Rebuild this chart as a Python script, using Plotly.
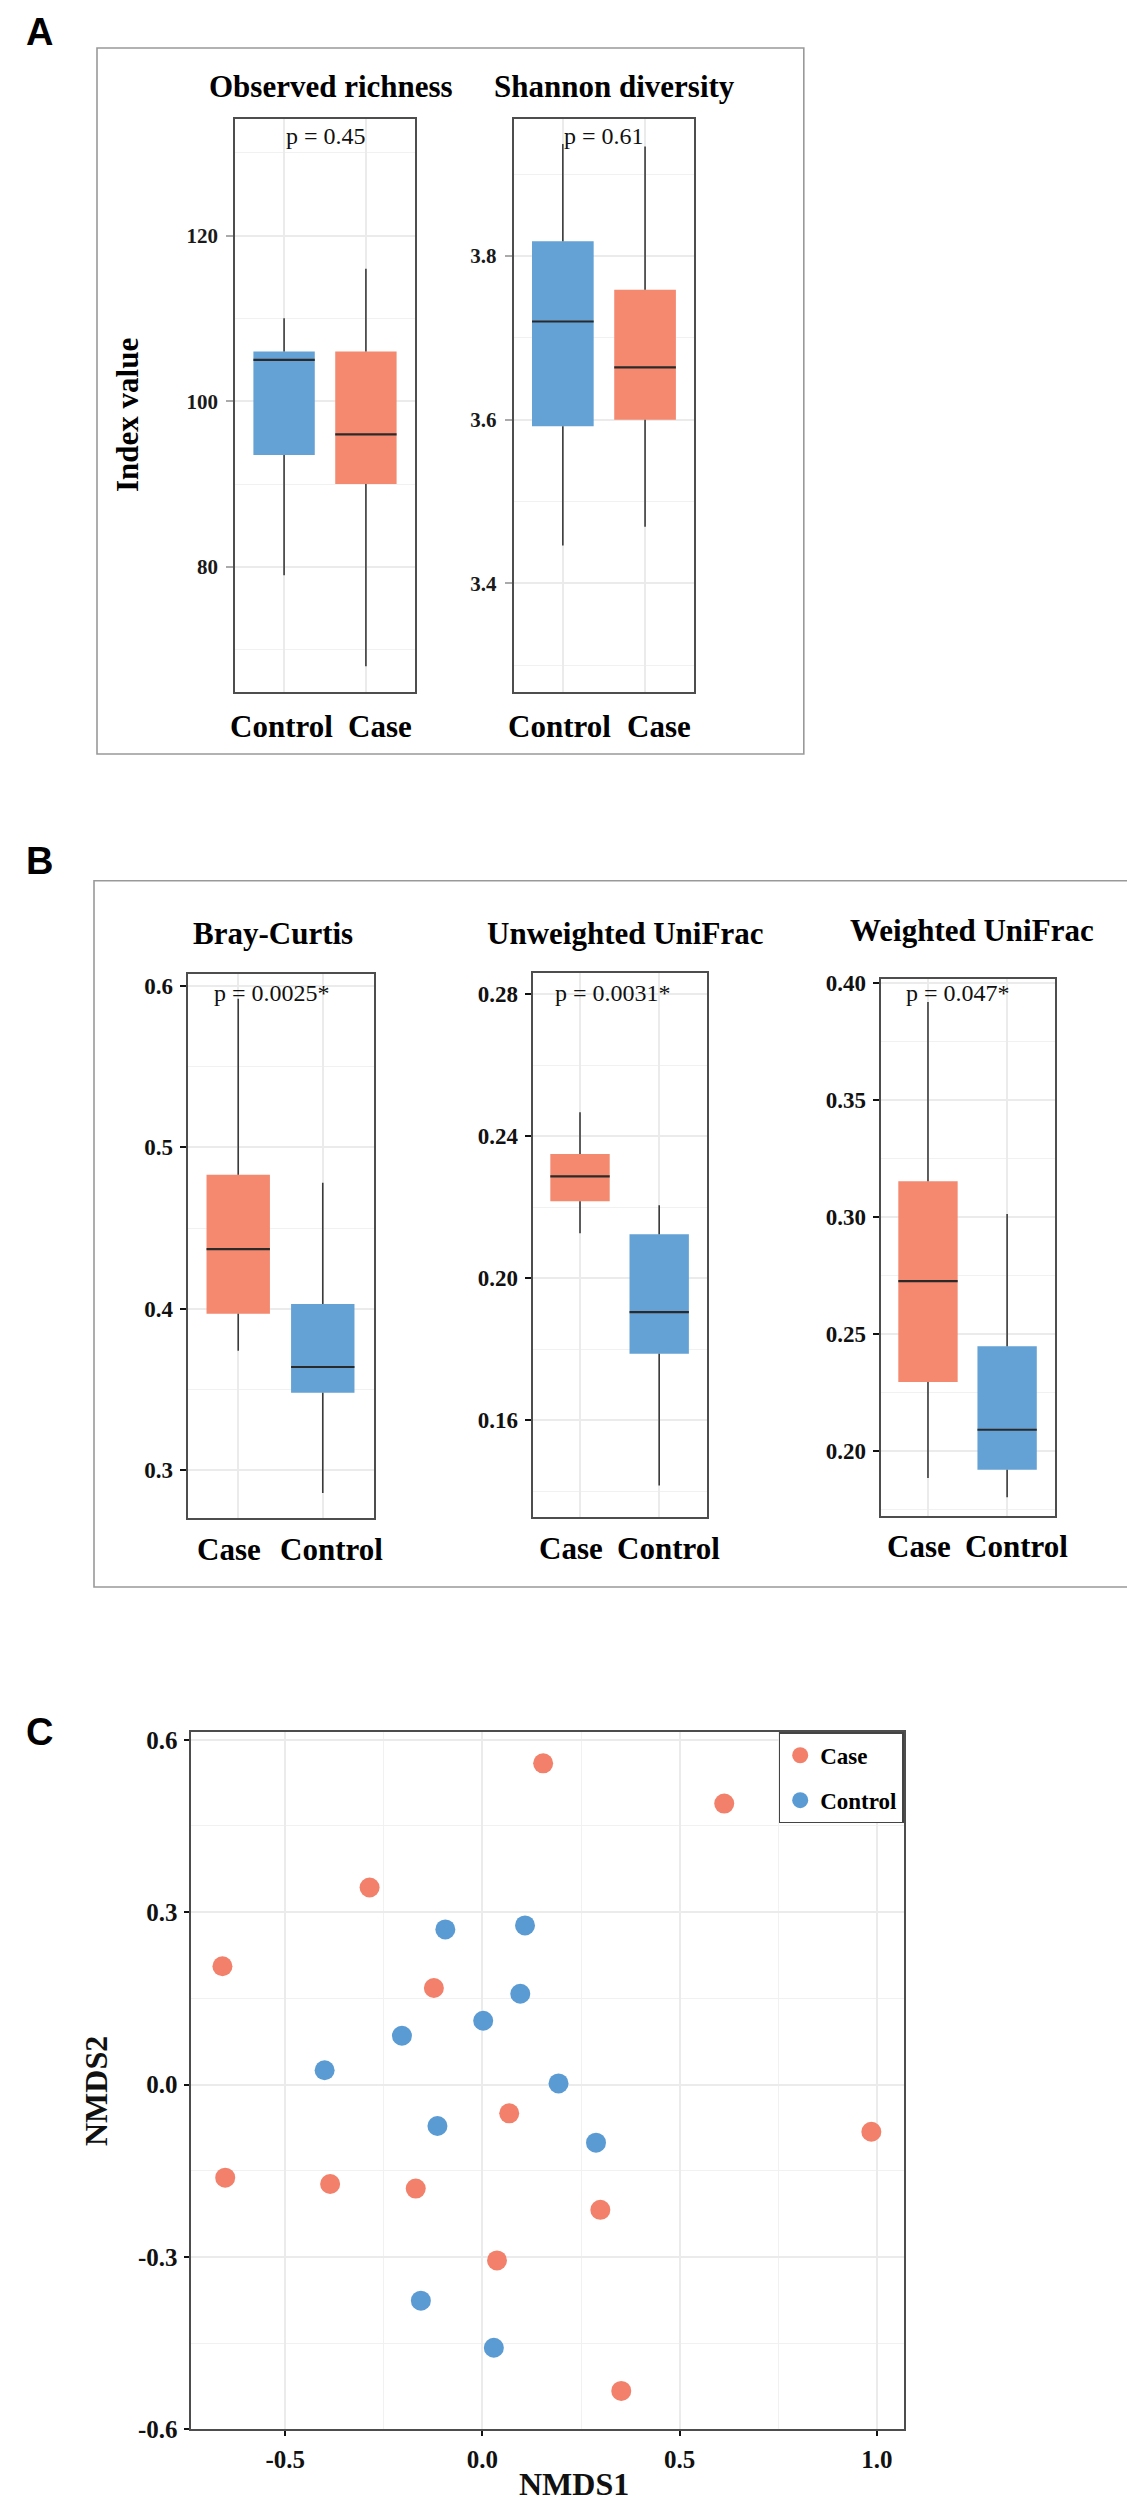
import plotly.graph_objects as go

W, H = 1135, 2500
SERIF = "Liberation Serif"
SANS = "Liberation Sans"
BOX_COLORS = {"Case": "#F4896F", "Control": "#64A2D5"}
PT_COLORS = {"Case": "#F2806A", "Control": "#5A9BD4"}
GRID = "#EBEBEB"
MINOR = "#F1F1F1"
FRAME = "#4D4D4D"
WHISK = "#3A3A3A"

# ---------------- data ----------------
groups_A = ["Control", "Case"]
richness_lo = [79.0, 68.0]
richness_q1 = [93.5, 90.0]
richness_med = [105.0, 96.0]
richness_q3 = [106.0, 106.0]
richness_hi = [110.0, 116.0]

shannon_lo = [3.446, 3.469]
shannon_q1 = [3.592, 3.600]
shannon_med = [3.720, 3.664]
shannon_q3 = [3.818, 3.759]
shannon_hi = [3.937, 3.934]

groups_B = ["Case", "Control"]
bray_lo = [0.374, 0.286]
bray_q1 = [0.397, 0.348]
bray_med = [0.437, 0.364]
bray_q3 = [0.483, 0.403]
bray_hi = [0.592, 0.478]

unw_lo = [0.2127, 0.1417]
unw_q1 = [0.2217, 0.1788]
unw_med = [0.2287, 0.1905]
unw_q3 = [0.2350, 0.2124]
unw_hi = [0.2468, 0.2206]

wu_lo = [0.1886, 0.1803]
wu_q1 = [0.2296, 0.1921]
wu_med = [0.2727, 0.2092]
wu_q3 = [0.3154, 0.2449]
wu_hi = [0.392, 0.3014]

titles = ["Observed richness", "Shannon diversity", "Bray-Curtis",
          "Unweighted UniFrac", "Weighted UniFrac"]
p_labels = ["p = 0.45", "p = 0.61", "p = 0.0025*", "p = 0.0031*", "p = 0.047*"]

case_nmds1 = [0.154, 0.613, -0.286, -0.659, -0.123, 0.068, 0.986, -0.652,
              -0.386, -0.169, 0.299, 0.037, 0.352]
case_nmds2 = [0.559, 0.489, 0.343, 0.206, 0.168, -0.050, -0.082, -0.162,
              -0.173, -0.181, -0.218, -0.306, -0.533]
control_nmds1 = [-0.094, 0.108, 0.096, 0.002, -0.204, -0.400, 0.193, -0.114,
                 0.288, -0.156, 0.029]
control_nmds2 = [0.270, 0.277, 0.158, 0.111, 0.085, 0.025, 0.002, -0.072,
                 -0.101, -0.376, -0.458]

nmds_xticks = [-0.5, 0.0, 0.5, 1.0]
nmds_yticks = [-0.6, -0.3, 0.0, 0.3, 0.6]


def px(x):
    return x / W


def py(y):
    return 1 - y / H


# panel specs
panels = [
    (groups_A, richness_lo, richness_q1, richness_med, richness_q3, richness_hi,
     (227, 407), (110.7, 684), (64.9, 134.1), 20, 10, None, "A"),
    (groups_A, shannon_lo, shannon_q1, shannon_med, shannon_q3, shannon_hi,
     (505.5, 686.4), (110.7, 684), (3.267, 3.968), 0.2, 0.1, ".1f", "A"),
    (groups_B, bray_lo, bray_q1, bray_med, bray_q3, bray_hi,
     (179.5, 365.5), (966, 1510), (0.2705, 0.6073), 0.1, 0.05, ".1f", "B"),
    (groups_B, unw_lo, unw_q1, unw_med, unw_q3, unw_hi,
     (524.5, 698.7), (965, 1509), (0.1328, 0.286), 0.04, 0.02, ".2f", "B"),
    (groups_B, wu_lo, wu_q1, wu_med, wu_q3, wu_hi,
     (872.5, 1046.6), (970.7, 1508.3), (0.1722, 0.402), 0.05, 0.025, ".2f", "B"),
]

title_pos = [(323.5, 78), (606.3, 78), (264.8, 925), (617, 925), (963.7, 923)]
p_pos = [(318.3, 128), (596.3, 128), (263.5, 985), (605, 985), (950, 985)]
xlabel_y = [718, 718, 1541.7, 1541, 1538.3]
xlabel_shift = {"A": (-3, 14), "B": (-9, 9)}

fig = go.Figure()
layout = {}
annotations = []

# boxes first (so scatter overlays are drawn above them)
for k, (groups, lo, q1, med, q3, hi, xd, yd, yr, dt, mn, tf, st) in enumerate(panels):
    n = k + 1
    xa, ya = ("x" if n == 1 else f"x{n}"), ("y" if n == 1 else f"y{n}")
    for i, g in enumerate(groups):
        c = BOX_COLORS[g]
        fig.add_trace(go.Box(
            x=[i], q1=[q1[i]], median=[med[i]], q3=[q3[i]],
            lowerfence=[q1[i]], upperfence=[q3[i]], width=0.75,
            fillcolor=c, line=dict(color=c, width=0), boxpoints=False,
            xaxis=xa, yaxis=ya, showlegend=False, hoverinfo="skip"))

for k, (groups, lo, q1, med, q3, hi, xd, yd, yr, dt, mn, tf, st) in enumerate(panels):
    n = k + 1
    xa, ya = ("x" if n == 1 else f"x{n}"), ("y" if n == 1 else f"y{n}")
    for i, g in enumerate(groups):
        fig.add_trace(go.Scatter(
            x=[i, i, None, i, i], y=[lo[i], q1[i], None, q3[i], hi[i]],
            mode="lines", line=dict(color=WHISK, width=1.6),
            xaxis=xa, yaxis=ya, showlegend=False, hoverinfo="skip"))
        fig.add_trace(go.Scatter(
            x=[i - 0.375, i + 0.375], y=[med[i], med[i]],
            mode="lines", line=dict(color="#2A2A2A", width=2.2),
            xaxis=xa, yaxis=ya, showlegend=False, hoverinfo="skip"))
        # category label under the panel
        annotations.append(dict(
            text=g, x=i, xref=xa, y=py(xlabel_y[k]), yref="paper",
            xshift=xlabel_shift[st][i], xanchor="center", yanchor="middle",
            showarrow=False,
            font=dict(family=SERIF, size=31, color="#000000", weight="bold")))

    if st == "A":
        ytick = dict(ticks="outside", ticklen=7, tickwidth=1.5, tickcolor="#AAAAAA",
                     tickfont=dict(family=SERIF, size=21, color="#1A1A1A", weight="bold"),
                     ticklabelstandoff=4)
    else:
        ytick = dict(ticks="outside", ticklen=6, tickwidth=2.2, tickcolor="#111111",
                     tickfont=dict(family=SERIF, size=23, color="#111111", weight="bold"),
                     ticklabelstandoff=2)
    xkey = "xaxis" if n == 1 else f"xaxis{n}"
    ykey = "yaxis" if n == 1 else f"yaxis{n}"
    layout[xkey] = dict(
        domain=[px(xd[0]), px(xd[1])], anchor=ya, range=[-0.6, 1.6],
        tickmode="array", tickvals=list(range(len(groups))), ticktext=groups,
        showticklabels=False, ticks="", showgrid=True, gridcolor=GRID, gridwidth=1.5,
        zeroline=False, showline=True, linecolor=FRAME, linewidth=1.6, mirror=True,
        fixedrange=True)
    layout[ykey] = dict(
        domain=[py(yd[1]), py(yd[0])], anchor=xa, range=list(yr),
        tick0=0, dtick=dt, showgrid=True, gridcolor=GRID, gridwidth=1.5,
        minor=dict(dtick=mn, tick0=0, showgrid=True, gridcolor=MINOR, gridwidth=1),
        zeroline=False, showline=True, linecolor=FRAME, linewidth=1.6, mirror=True,
        fixedrange=True, **ytick)
    if tf:
        layout[ykey]["tickformat"] = tf

    tx, ty = title_pos[k]
    annotations.append(dict(text=titles[k], x=px(tx), y=py(ty), xref="paper", yref="paper",
                            xanchor="center", yanchor="middle", showarrow=False,
                            font=dict(family=SERIF, size=31, color="#000000", weight="bold")))
    ppx, ppy = p_pos[k]
    annotations.append(dict(text=p_labels[k], x=px(ppx), y=py(ppy), xref="paper", yref="paper",
                            xanchor="center", yanchor="middle", showarrow=False,
                            font=dict(family=SERIF, size=24, color="#111111")))

# ---------------- NMDS panel ----------------
fig.add_trace(go.Scatter(x=case_nmds1, y=case_nmds2, mode="markers", name="Case",
                         legendgroup="case",
                         marker=dict(size=20, color=PT_COLORS["Case"], line=dict(width=0)),
                         xaxis="x6", yaxis="y6"))
fig.add_trace(go.Scatter(x=control_nmds1, y=control_nmds2, mode="markers", name="Control",
                         legendgroup="control",
                         marker=dict(size=20, color=PT_COLORS["Control"], line=dict(width=0)),
                         xaxis="x6", yaxis="y6"))

nm_tickfont = dict(family=SERIF, size=25, color="#111111", weight="bold")
layout["xaxis6"] = dict(
    domain=[px(182.5), px(895.7)], anchor="y6", range=[-0.74, 1.068],
    tickmode="array", tickvals=nmds_xticks, ticktext=[f"{v:.1f}" for v in nmds_xticks],
    minor=dict(tickvals=[-0.25, 0.25, 0.75], showgrid=True, gridcolor=MINOR, gridwidth=1),
    showgrid=True, gridcolor=GRID, gridwidth=1.5, zeroline=False,
    showline=True, linecolor=FRAME, linewidth=2, mirror=True,
    ticks="outside", ticklen=5, tickwidth=2.2, tickcolor="#111111",
    tickfont=nm_tickfont, ticklabelstandoff=2, tickangle=0, fixedrange=True)
layout["yaxis6"] = dict(
    domain=[py(2421.4), py(1724.3)], anchor="x6", range=[-0.6, 0.613],
    tickmode="array", tickvals=nmds_yticks, ticktext=[f"{v:.1f}" for v in nmds_yticks],
    minor=dict(tickvals=[-0.45, -0.15, 0.15, 0.45], showgrid=True, gridcolor=MINOR, gridwidth=1),
    showgrid=True, gridcolor=GRID, gridwidth=1.5, zeroline=False,
    showline=True, linecolor=FRAME, linewidth=2, mirror=True,
    ticks="outside", ticklen=5, tickwidth=2.2, tickcolor="#111111",
    tickfont=nm_tickfont, ticklabelstandoff=1, fixedrange=True)

# axis titles
annotations.append(dict(text="Index value", x=px(119), y=py(407), xref="paper", yref="paper",
                        textangle=-90, xanchor="center", yanchor="middle", showarrow=False,
                        font=dict(family=SERIF, size=31, color="#000000", weight="bold")))
annotations.append(dict(text="NMDS2", x=px(88), y=py(2083), xref="paper", yref="paper",
                        textangle=-90, xanchor="center", yanchor="middle", showarrow=False,
                        font=dict(family=SERIF, size=32, color="#111111", weight="bold")))
annotations.append(dict(text="NMDS1", x=px(566), y=py(2476), xref="paper", yref="paper",
                        xanchor="center", yanchor="middle", showarrow=False,
                        font=dict(family=SERIF, size=32, color="#111111", weight="bold")))

# panel letters
for letter, (lx, ly) in zip(["A", "B", "C"], [(31, 24), (31, 853), (31, 1724)]):
    annotations.append(dict(text=letter, x=px(lx), y=py(ly), xref="paper", yref="paper",
                            xanchor="center", yanchor="middle", showarrow=False,
                            font=dict(family=SANS, size=38, color="#000000", weight="bold")))

shapes = [
    dict(type="rect", xref="paper", yref="paper", x0=px(89), x1=px(795.8), y0=py(746), y1=py(40),
         line=dict(color="#999999", width=1.6), fillcolor="rgba(0,0,0,0)"),
    dict(type="rect", xref="paper", yref="paper", x0=px(86), x1=px(1131), y0=py(1579), y1=py(872.7),
         line=dict(color="#999999", width=1.6), fillcolor="rgba(0,0,0,0)"),
]

fig.update_layout(
    width=W, height=H, autosize=False,
    margin=dict(l=0, r=0, t=0, b=0),
    paper_bgcolor="white", plot_bgcolor="white",
    template="none",
    showlegend=True,
    legend=dict(x=px(895.7), y=py(1724.3), xanchor="right", yanchor="top",
                bgcolor="white", bordercolor="#444444", borderwidth=1.5,
                font=dict(family=SERIF, size=23, color="#000000", weight="bold"),
                tracegroupgap=12, itemwidth=30),
    annotations=annotations, shapes=shapes,
    **layout,
)

fig.write_html("out.html")
